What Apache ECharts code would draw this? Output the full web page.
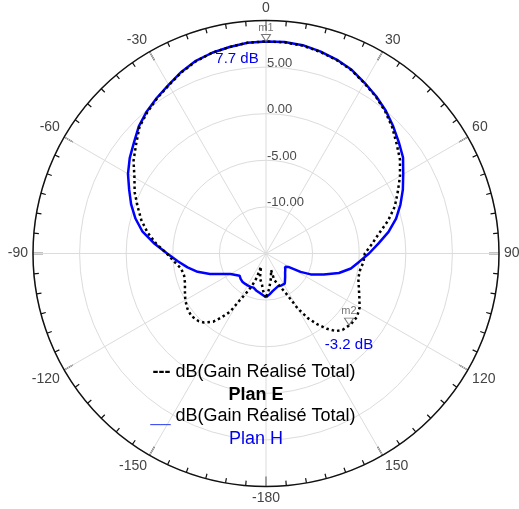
<!DOCTYPE html>
<html>
<head>
<meta charset="utf-8">
<script src="https://cdn.jsdelivr.net/npm/echarts@6.0.0/dist/echarts.min.js"></script>
<style>
  html, body { margin: 0; padding: 0; background: #fff; }
  #chart { width: 519px; height: 509px; }
</style>
</head>
<body>
<div id="chart"></div>
<script>
// Plan E : courbe noire pointillée (angle en degrés, gain en dB)
var planEAngles = [-180, -176, -172.8, -166, -159.3, -159, -156.5, -153.3, -150.8, -148.3, -145, -142.3,
  -138, -135, -130, -125, -120, -115, -110, -105, -100, -95, -90, -85, -80, -75, -70, -65, -60, -55,
  -50, -45, -40, -35, -30, -25, -20, -15, -10, -5, 0, 5, 10, 15, 20, 25, 30, 35, 40, 45, 50, 55, 60,
  65, 70, 75, 80, 85, 90, 95, 100, 105, 110, 115, 120, 125, 130, 135, 138, 141, 144, 147, 150, 153.3,
  157.6, 162.6, 163, 168.3, 174.6, 177.6, 180];
var planEGains = [-10.3, -10.9, -11.6, -12.3, -13.5, -12.2, -11.2, -10.2, -9.3, -7.66, -6.6, -5.75,
  -5.05, -4.75, -4.55, -4.7, -5.0, -5.4, -5.75, -5.9, -5.75, -5.1, -4.35, -3.2, -2.1, -1.15, -0.35, 0.55, 1.3, 2.35,
  3.2, 4.2, 4.8, 5.35, 5.85, 6.45, 6.95, 7.3, 7.5, 7.7, 7.75, 7.75, 7.65, 7.4, 7.1, 6.7, 6.1, 5.55, 4.9, 4.15, 3.3, 2.55, 1.6,
  0.6, -0.3, -1.45, -2.7, -3.6, -4.4, -4.5, -4.75, -4.75, -4.4, -3.95, -3.4, -3.1, -3.15, -3.4, -3.8, -4.6, -5.6, -6.7, -8.2, -10.2,
  -11.27, -12.0, -13.15, -12.35, -11.25, -10.7, -10.3];

// Plan H : courbe bleue continue
var planHAngles = [-180, -175, -170, -165, -160, -155, -150, -145, -140, -135, -130, -126, -120, -115,
  -110, -105, -100, -95, -90, -85, -80, -75, -70, -65, -60, -55, -50, -45, -40, -35, -30, -25, -20,
  -15, -10, -5, 0, 5, 10, 15, 20, 25, 30, 35, 40, 45, 50, 55, 60, 65, 70, 75, 80, 85, 90, 95, 100,
  105, 110, 115, 118, 121, 125, 130, 135, 140, 145, 148, 150, 155, 160, 165, 170, 175, 180];
var planHGains = [-10.3, -10.55, -10.75, -10.9, -11.1, -11.05, -11.05, -11.05, -11.05, -11.15, -11.3, -11.3, -10.6, -9.8,
  -8.6, -7.4, -6.45, -5.5, -4.4, -3.0, -1.55, -0.5, 0.4, 1.2, 2.1, 2.85, 3.5, 4.3, 4.9, 5.4, 5.9, 6.5, 7.0,
  7.3, 7.5, 7.7, 7.75, 7.78, 7.7, 7.45, 7.15, 6.75, 6.15, 5.6, 5.0, 4.3, 3.6, 2.95, 2.0, 1.2, 0.35, -0.55, -1.65, -2.9, -3.95, -4.95, -5.75,
  -6.9, -8.4, -9.7, -10.8, -12.2, -12.5, -12.3, -12.1, -11.8, -11.45, -11.2, -11.25, -11.2, -11.25, -11.1, -10.9, -10.6, -10.3];

// marqueurs
var markerNames = ['m1', 'm2'];
var markerAngles = [0, 131];
var markerGains = [7.7, -3.2];

var radiusLabels = [-10, -5, 0, 5];

var FONT = '"Liberation Sans", Arial, sans-serif';

function toPolar(angles, gains) {
  return angles.map(function (a, i) {
    return [gains[i], a < 0 ? a + 360 : a];
  });
}

var chart = echarts.init(document.getElementById('chart'));

var option = {
  animation: false,
  backgroundColor: '#fff',
  polar: {
    center: [266, 253.5],
    radius: 233
  },
  angleAxis: {
    type: 'value',
    min: 0,
    max: 360,
    interval: 30,
    startAngle: 90,
    clockwise: true,
    axisLine: { lineStyle: { color: '#111', width: 1.5 } },
    axisTick: { inside: true, length: 10, lineStyle: { color: '#111', width: 1.3 } },
    minorTick: { show: true, splitNumber: 6, length: 5, lineStyle: { color: '#111', width: 1.2 } },
    splitLine: { lineStyle: { color: '#dcdcdc', width: 1 } },
    axisLabel: {
      margin: 5,
      fontSize: 14,
      fontFamily: FONT,
      color: '#444',
      formatter: function (v) {
        if (v === 360) return '';
        if (v >= 180) return String(v - 360);
        return String(v);
      }
    }
  },
  radiusAxis: {
    type: 'value',
    min: -15,
    max: 10,
    interval: 5,
    axisLine: { show: false },
    axisTick: { show: false },
    splitLine: { lineStyle: { color: '#dcdcdc', width: 1 } },
    axisLabel: {
      margin: -1,
      align: 'left',
      verticalAlign: 'bottom',
      lineHeight: 8,
      fontSize: 13,
      fontFamily: FONT,
      color: '#4a4a4a',
      formatter: function (v) {
        return radiusLabels.indexOf(v) >= 0 ? v.toFixed(2) : '';
      }
    }
  },
  series: [
    {
      name: 'Plan H',
      type: 'line',
      coordinateSystem: 'polar',
      data: toPolar(planHAngles, planHGains),
      symbol: 'none',
      lineStyle: { color: '#0000ff', width: 2.5 },
      z: 3
    },
    {
      name: 'Plan E',
      type: 'line',
      coordinateSystem: 'polar',
      data: toPolar(planEAngles, planEGains),
      symbol: 'none',
      lineStyle: { color: '#000', width: 2.5, type: [2.5, 3] },
      z: 4
    },
    {
      name: 'marqueurs',
      type: 'scatter',
      coordinateSystem: 'polar',
      data: markerNames.map(function (n, i) {
        return { name: n, value: [markerGains[i], markerAngles[i]] };
      }),
      symbol: 'triangle',
      symbolRotate: 180,
      symbolSize: [9, 7],
      symbolOffset: [0, -4],
      itemStyle: { color: '#fff', borderColor: '#555', borderWidth: 1 },
      label: {
        show: true,
        position: 'top',
        distance: 1,
        formatter: '{b}',
        fontSize: 11,
        fontFamily: FONT,
        color: '#555'
      },
      z: 5
    }
  ],
  graphic: [
    { type: 'text', style: { text: markerGains[0].toFixed(1) + ' dB', x: 237, y: 59, align: 'center', verticalAlign: 'middle', font: '15px ' + FONT, fill: '#0000ee' }, z: 10 },
    { type: 'text', style: { text: markerGains[1].toFixed(1) + ' dB', x: 349, y: 345, align: 'center', verticalAlign: 'middle', font: '15px ' + FONT, fill: '#0000ee' }, z: 10 },
    {
      type: 'text',
      style: {
        text: '{k|---} dB(Gain Réalisé Total)', x: 254, y: 372, align: 'center', verticalAlign: 'middle',
        font: '18px ' + FONT, fill: '#000',
        rich: { k: { fontWeight: 'bold', fontSize: 18, fontFamily: FONT, fill: '#000' } }
      },
      z: 10
    },
    { type: 'text', style: { text: 'Plan E', x: 256, y: 395, align: 'center', verticalAlign: 'middle', font: 'bold 18px ' + FONT, fill: '#000' }, z: 10 },
    {
      type: 'text',
      style: {
        text: '{b|__} dB(Gain Réalisé Total)', x: 253, y: 416, align: 'center', verticalAlign: 'middle',
        font: '18px ' + FONT, fill: '#000',
        rich: { b: { fontSize: 18, fontFamily: FONT, fill: '#4455ee' } }
      },
      z: 10
    },
    { type: 'text', style: { text: 'Plan H', x: 256, y: 439, align: 'center', verticalAlign: 'middle', font: '18px ' + FONT, fill: '#0000ee' }, z: 10 }
  ]
};

chart.setOption(option);
</script>
</body>
</html>
